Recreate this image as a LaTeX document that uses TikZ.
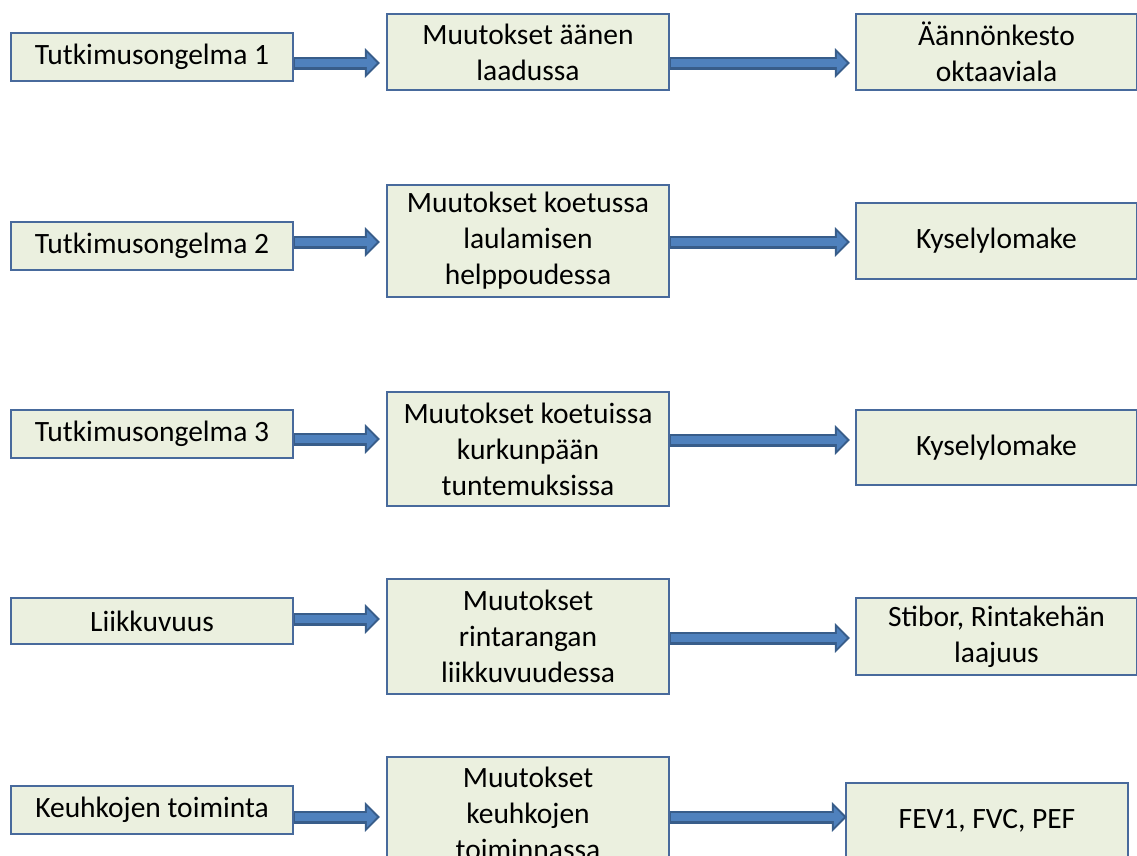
\documentclass[tikz,border=0pt]{standalone}
\usepackage{fontspec}
\setmainfont{Carlito}
\usetikzlibrary{arrows.meta,calc}
\definecolor{boxfill}{RGB}{235,240,223}
\definecolor{boxline}{RGB}{72,106,156}
\definecolor{arrfill}{RGB}{79,129,189}
\definecolor{arrline}{RGB}{56,93,138}
\tikzset{
  box/.style={draw=boxline, fill=boxfill, line width=2.2pt, inner sep=2pt,
    align=center, font=\fontsize{29.5}{36}\selectfont, text=black},
  lbox/.style={box, minimum width=282pt},
  blockarrow/.style={arrline, line width=13pt, -{Triangle[length=15pt,width=29pt]}},
  blockarrowin/.style={arrfill, line width=8pt, -{Triangle[length=10pt,width=20pt]}},
}
\newcommand{\blockconn}[2]{%
  \draw[blockarrow] #1 -- #2;
  \draw[blockarrowin] ($#1+(1,0)$) -- ($#2+(-3,0)$);
}
\begin{document}
\begin{tikzpicture}[x=1pt,y=-1pt]
\useasboundingbox (0,0) rectangle (1137,855);
\clip (0,0) rectangle (1137,855);
% row 1
\node[lbox, minimum height=48pt] (l1) at (152,57) {Tutkimusongelma 1};
\node[lbox, minimum height=76pt] (m1) at (528,52) {Muutokset äänen\\laadussa};
\node[box, minimum width=281pt, minimum height=76pt] (r1) at (996.5,52) {Äännönkesto\\oktaaviala};
% row 2
\node[lbox, minimum height=48pt] (l2) at (152,246) {Tutkimusongelma 2};
\node[lbox, minimum height=112pt] (m2) at (528,241) {Muutokset koetussa\\laulamisen\\helppoudessa};
\node[box, minimum width=281pt, minimum height=76pt] (r2) at (996.5,241) {Kyselylomake};
% row 3
\node[lbox, minimum height=48pt] (l3) at (152,434) {Tutkimusongelma 3};
\node[lbox, minimum height=114pt] (m3) at (528,449) {Muutokset koetuissa\\kurkunpään\\tuntemuksissa};
\node[box, minimum width=281pt, minimum height=75pt] (r3) at (996.5,447.5) {Kyselylomake};
% row 4
\node[lbox, minimum height=46pt] (l4) at (152,621) {Liikkuvuus};
\node[lbox, minimum height=115pt] (m4) at (528,636.5) {Muutokset\\rintarangan\\liikkuvuudessa};
\node[box, minimum width=281pt, minimum height=77pt] (r4) at (996.5,636.5) {Stibor, Rintakehän\\laajuus};
% row 5
\node[lbox, minimum height=48pt] (l5) at (152,810) {Keuhkojen toiminta};
\node[lbox, minimum height=112pt] (m5) at (528,813) {Muutokset\\keuhkojen\\toiminnassa};
\node[box, minimum width=282pt, minimum height=76pt] (r5) at (987,821) {FEV1, FVC, PEF};
% arrows
\blockconn{($(l1.east)+(0,6)$)}{($(m1.west)+(-6,11)$)}
\blockconn{($(m1.east)+(0,11)$)}{($(r1.west)+(-5,11)$)}
\blockconn{($(l2.east)+(0,-4)$)}{($(m2.west)+(-6,1)$)}
\blockconn{($(m2.east)+(0,1)$)}{($(r2.west)+(-5,1)$)}
\blockconn{($(l3.east)+(0,5)$)}{($(m3.west)+(-6,-10)$)}
\blockconn{($(m3.east)+(0,-9)$)}{($(r3.west)+(-5,-7.5)$)}
\blockconn{($(l4.east)+(0,-2)$)}{($(m4.west)+(-6,-17.5)$)}
\blockconn{($(m4.east)+(0,1.5)$)}{($(r4.west)+(-5,1.5)$)}
\blockconn{($(l5.east)+(0,7)$)}{($(m5.west)+(-6,4)$)}
\blockconn{($(m5.east)+(0,4)$)}{($(r5.west)+(2,-4)$)}
\end{tikzpicture}
\end{document}
